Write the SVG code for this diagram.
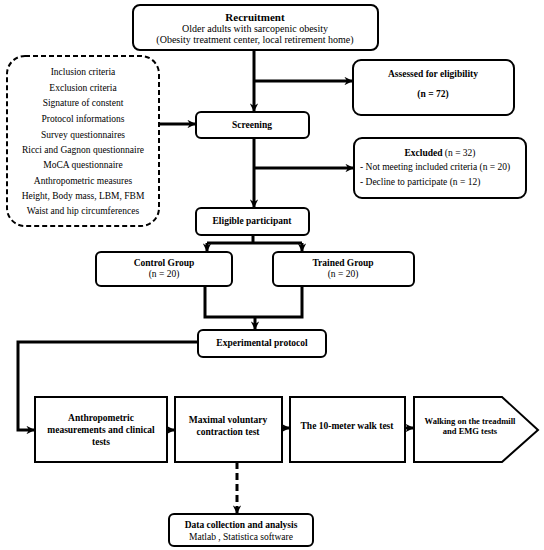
<svg xmlns="http://www.w3.org/2000/svg" width="544" height="550" viewBox="0 0 544 550" font-family="'Liberation Serif', 'Times New Roman', serif">
<defs>
<marker id="ah" viewBox="0 0 10 10" refX="9" refY="5" markerWidth="2.8" markerHeight="2.8" orient="auto" markerUnits="strokeWidth">
<path d="M0,0 L10,5 L0,10 L3,5 Z" fill="#000"/>
</marker>
</defs>
<style>
.box{fill:#fff;stroke:#000;stroke-width:2}
.t{font-family:'Liberation Serif','Times New Roman',serif;font-size:9.5px;fill:#000;text-anchor:middle}
.b{font-weight:bold}
.c{fill:none;stroke:#000;stroke-width:3}
</style>
<rect width="544" height="550" fill="#fff"/>
<g id="connectors">
<path class="c" d="M254,50 V111" marker-end="url(#ah)"/>
<path class="c" d="M254,81 H352" marker-end="url(#ah)"/>
<path class="c" d="M159,124 H195" marker-end="url(#ah)"/>
<path class="c" d="M254,138 V207" marker-end="url(#ah)"/>
<path class="c" d="M254,168 H353" marker-end="url(#ah)"/>
<path class="c" d="M253,235 V243"/>
<path class="c" d="M207,243 H302"/>
<path class="c" d="M207,243 V251" marker-end="url(#ah)"/>
<path class="c" d="M302,243 V251" marker-end="url(#ah)"/>
<path class="c" d="M205,286 V317 H302 V286"/>
<path class="c" d="M255,317 V329" marker-end="url(#ah)"/>
<path class="c" d="M198,342 H18 V430 H34" marker-end="url(#ah)"/>
<path class="c" d="M167,430 H174" marker-end="url(#ah)"/>
<path class="c" d="M282,428 H289" marker-end="url(#ah)"/>
<path class="c" d="M405,428 H413" marker-end="url(#ah)"/>
<path class="c" d="M237,462 V513" stroke-dasharray="7,4" marker-end="url(#ah)"/>
</g>
<g id="recruitment">
<rect class="box" x="133" y="5" width="245" height="45" rx="7"/>
<text class="t b" x="255" y="21" style="font-size:11px">Recruitment</text>
<text class="t" x="255" y="32" style="font-size:10px">Older adults with sarcopenic obesity</text>
<text class="t" x="255" y="43" style="font-size:10px">(Obesity treatment center, local retirement home)</text>
</g>
<g id="assessed">
<rect class="box" x="353" y="60" width="161" height="55" rx="8"/>
<text class="t b" x="433" y="77">Assessed for eligibility</text>
<text class="t b" x="433" y="97">(n = 72)</text>
</g>
<g id="criteria">
<rect x="7" y="56" width="152" height="170" rx="18" fill="#fff" stroke="#000" stroke-width="2" stroke-dasharray="5,3"/>
<text class="t" x="83" y="75">Inclusion criteria</text>
<text class="t" x="83" y="91">Exclusion criteria</text>
<text class="t" x="83" y="106">Signature of constent</text>
<text class="t" x="83" y="122">Protocol informations</text>
<text class="t" x="83" y="138">Survey questionnaires</text>
<text class="t" x="83" y="153">Ricci and Gagnon questionnaire</text>
<text class="t" x="83" y="168">MoCA questionnaire</text>
<text class="t" x="83" y="184">Anthropometric measures</text>
<text class="t" x="83" y="199">Height, Body mass, LBM, FBM</text>
<text class="t" x="83" y="214">Waist and hip circumferences</text>
</g>
<g id="screening">
<rect class="box" x="196" y="112" width="113" height="26" rx="5"/>
<text class="t b" x="252" y="128">Screening</text>
</g>
<g id="excluded">
<rect class="box" x="354" y="138" width="172" height="60" rx="8"/>
<text class="t" x="440" y="156"><tspan class="b">Excluded</tspan> (n = 32)</text>
<text class="t" x="360" y="170" style="text-anchor:start">- Not meeting included criteria (n = 20)</text>
<text class="t" x="360" y="185" style="text-anchor:start">- Decline to participate (n = 12)</text>
</g>
<g id="eligible">
<rect class="box" x="196" y="208" width="113" height="27" rx="5"/>
<text class="t b" x="252" y="224">Eligible participant</text>
</g>
<g id="control">
<rect class="box" x="96" y="252" width="136" height="34" rx="5"/>
<text class="t b" x="164" y="266">Control Group</text>
<text class="t" x="164" y="277">(n = 20)</text>
</g>
<g id="trained">
<rect class="box" x="273" y="252" width="141" height="34" rx="5"/>
<text class="t b" x="343" y="266">Trained Group</text>
<text class="t" x="343" y="277">(n = 20)</text>
</g>
<g id="experimental">
<rect class="box" x="198" y="330" width="128" height="27" rx="5"/>
<text class="t b" x="262" y="346">Experimental protocol</text>
</g>
<g id="anthro">
<rect class="box" x="35" y="397" width="132" height="65"/>
<text class="t b" x="101" y="421">Anthropometric</text>
<text class="t b" x="101" y="433">measurements and clinical</text>
<text class="t b" x="101" y="445">tests</text>
</g>
<g id="mvc">
<rect class="box" x="175" y="397" width="107" height="65"/>
<text class="t b" x="228" y="423">Maximal voluntary</text>
<text class="t b" x="228" y="435">contraction test</text>
</g>
<g id="walk10">
<rect class="box" x="290" y="397" width="115" height="65"/>
<text class="t b" x="347" y="429">The 10-meter walk test</text>
</g>
<g id="treadmill">
<path class="box" d="M414,397 H502 L538,430 L502,462 H414 Z"/>
<text class="t b" x="470" y="424" style="font-size:8.5px">Walking on the treadmill</text>
<text class="t b" x="470" y="434" style="font-size:8.5px">and EMG tests</text>
</g>
<g id="data">
<rect class="box" x="169" y="514" width="144" height="32" rx="5"/>
<text class="t b" x="241" y="528">Data collection and analysis</text>
<text class="t" x="241" y="540">Matlab , Statistica software</text>
</g>
</svg>
